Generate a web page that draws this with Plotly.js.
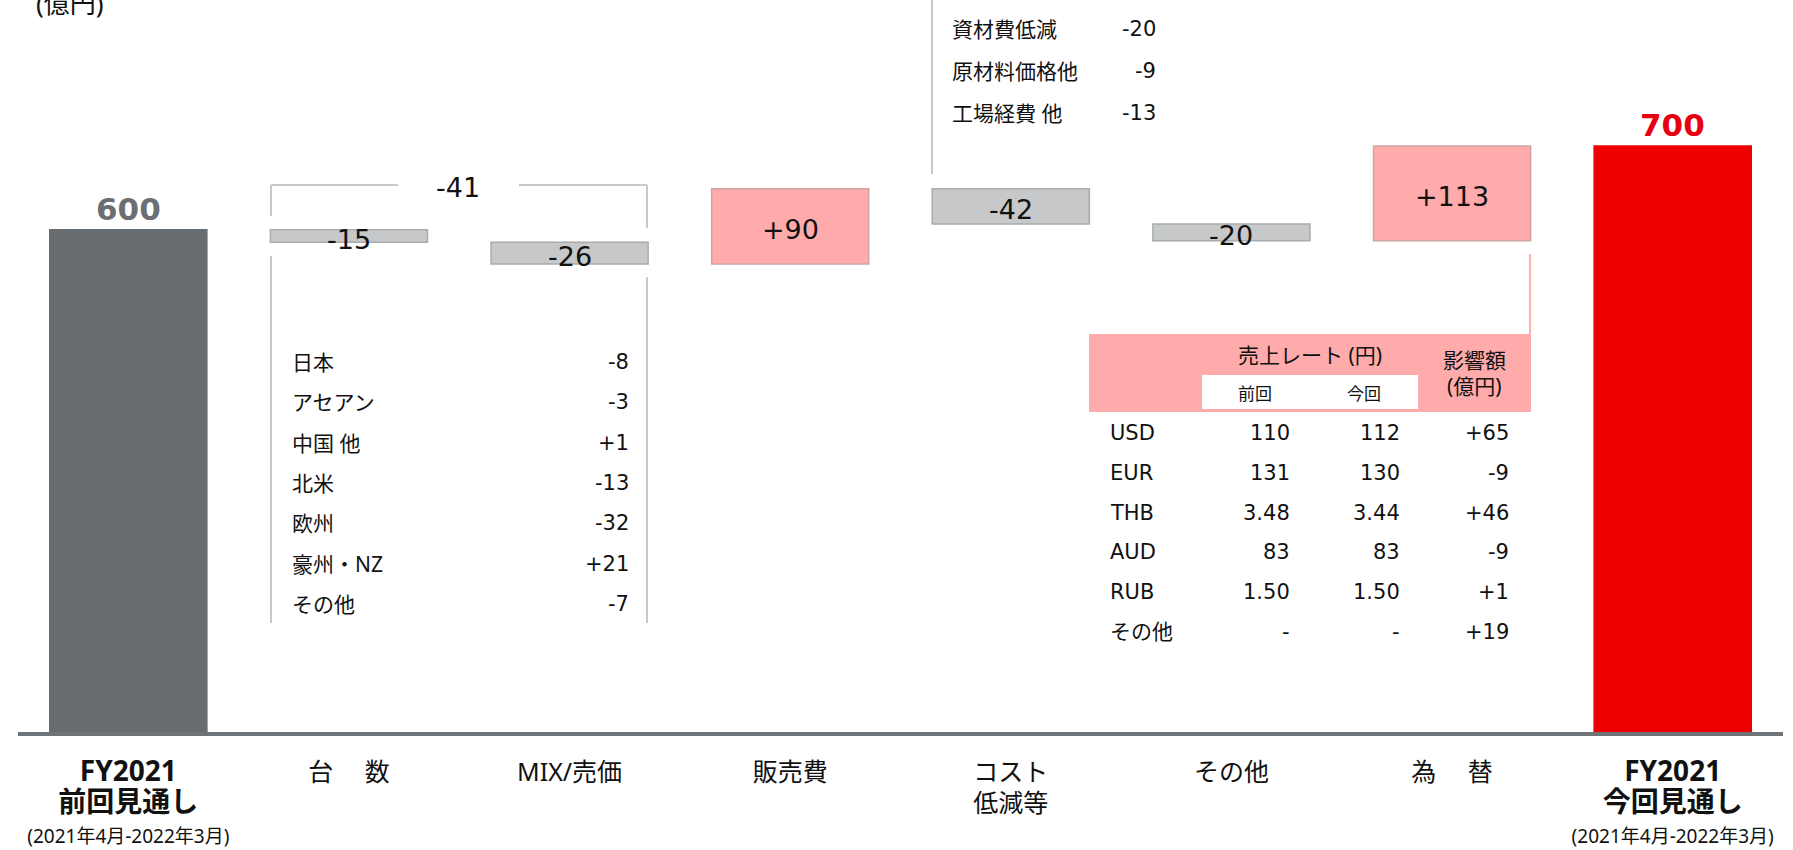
<!DOCTYPE html>
<html>
<head>
<meta charset="utf-8">
<script src="https://cdn.plot.ly/plotly-3.0.1.min.js"></script>
<style>
  html, body { margin: 0; padding: 0; background: #ffffff; }
  #chart { width: 1793px; height: 850px; }
</style>
</head>
<body>
<div id="chart"></div>
<script>
// ---------------- DATA ----------------
const categories = ['FY2021前回見通し', '台数', 'MIX/売価', '販売費', 'コスト低減等', 'その他', '為替', 'FY2021今回見通し'];
const tickLabels = [
  "<span style='font-size:28px'><b>FY2021</b></span><br><span style='font-size:28px'><b>前回見通し</b></span><br><span style='font-size:19px'>(2021年4月-2022年3月)</span>",
  "<span style='font-size:25px'>台\u3000 数</span>",
  "<span style='font-size:25px'>MIX/売価</span>",
  "<span style='font-size:25px'>販売費</span>",
  "<span style='font-size:25px'>コスト</span><br><span style='font-size:25px'>低減等</span>",
  "<span style='font-size:25px'>その他</span>",
  "<span style='font-size:25px'>為\u3000 替</span>",
  "<span style='font-size:28px'><b>FY2021</b></span><br><span style='font-size:28px'><b>今回見通し</b></span><br><span style='font-size:19px'>(2021年4月-2022年3月)</span>"
];
const startValue = 600;
const deltas = [-15, -26, 90, -42, -20, 113];
const endValue = 700;

const volumeMixTotal = -41;
const volumeRegions = ['日本', 'アセアン', '中国 他', '北米', '欧州', '豪州・NZ', 'その他'];
const volumeValues = [-8, -3, 1, -13, -32, 21, -7];

const costItems = ['資材費低減', '原材料価格他', '工場経費 他'];
const costValues = [-20, -9, -13];

const fxCurrencies = ['USD', 'EUR', 'THB', 'AUD', 'RUB', 'その他'];
const fxPrevRates = ['110', '131', '3.48', '83', '1.50', '-'];
const fxCurrRates = ['112', '130', '3.44', '83', '1.50', '-'];
const fxImpact = [65, -9, 46, -9, 1, 19];
const fxHeader = ['売上レート (円)', '前回', '今回', '影響額', '(億円)'];
const unitLabel = '(億円)';

// ---------------- STYLE / GEOMETRY ----------------
const W = 1793, H = 850;
const M = { l: 18, r: 10, t: 0, b: 118 };
const PW = W - M.l - M.r, PH = H - M.t - M.b;
const YMAX = 874.5;
const FONT = "'Noto Sans', 'Noto Sans CJK JP', sans-serif";
const NUMFONT = "'DejaVu Sans', 'Noto Sans CJK JP', sans-serif";
const C_START = '#676c71', C_END = '#ee0000';
const C_UP = '#ffabab', C_UP_LINE = '#d2a4a4';
const C_DOWN = '#c6c8ca', C_DOWN_LINE = '#a9abad';
const C_RULE = '#c8c9cb';
const C_TEXT = '#111111';

function xp(px) { return (px - M.l) / PW; }
function yp(py) { return (M.t + PH - py) / PH; }
function sgn(v) { return v > 0 ? '+' + v : String(v); }

// ---------------- BARS ----------------
const bases = [0], heights = [startValue], colors = [C_START], lines = [C_START];
let running = startValue;
deltas.forEach(d => {
  bases.push(d > 0 ? running : running + d);
  heights.push(Math.abs(d));
  colors.push(d > 0 ? C_UP : C_DOWN);
  lines.push(d > 0 ? C_UP_LINE : C_DOWN_LINE);
  running += d;
});
bases.push(0); heights.push(endValue); colors.push(C_END); lines.push(C_END);

const trace = {
  type: 'bar',
  x: categories,
  y: heights,
  base: bases,
  width: 0.712,
  marker: { color: colors, line: { color: lines, width: 1.5 } },
  hoverinfo: 'skip',
  showlegend: false
};

// ---------------- ANNOTATIONS ----------------
const ann = [];
function pa(text, px, py, xanchor, font) {
  ann.push({ x: xp(px), y: yp(py), xref: 'paper', yref: 'paper', xanchor, yanchor: 'middle',
    text, showarrow: false, font });
}
// totals
ann.push({ x: categories[0], y: startValue, xref: 'x', yref: 'y', yshift: 21, yanchor: 'middle',
  text: '<b>' + startValue + '</b>', showarrow: false, font: { family: NUMFONT, size: 31, color: '#6b6f73' } });
ann.push({ x: categories[7], y: endValue, xref: 'x', yref: 'y', yshift: 21, yanchor: 'middle',
  text: '<b>' + endValue + '</b>', showarrow: false, font: { family: NUMFONT, size: 31, color: '#e60012' } });
// deltas
deltas.forEach((d, i) => {
  const mid = bases[i + 1] + heights[i + 1] / 2;
  ann.push({ x: categories[i + 1], y: mid, xref: 'x', yref: 'y', yshift: -3, yanchor: 'middle',
    text: sgn(d), showarrow: false, font: { family: NUMFONT, size: 27, color: C_TEXT } });
});
// bracket total
pa(String(volumeMixTotal), 458, 188, 'center', { family: NUMFONT, size: 27, color: C_TEXT });
// unit
pa(unitLabel, 34, 3, 'left', { family: FONT, size: 26, color: C_TEXT });

// left table (volume by region)
volumeRegions.forEach((r, i) => {
  const y = 362 + i * 40.3;
  pa(r, 290, y, 'left', { family: FONT, size: 21, color: C_TEXT });
  pa(sgn(volumeValues[i]), 631, y, 'right', { family: NUMFONT, size: 21, color: C_TEXT });
});

// cost list
costItems.forEach((c, i) => {
  const y = 28.6 + i * 42.2;
  pa(c, 950, y, 'left', { family: FONT, size: 21, color: C_TEXT });
  pa(sgn(costValues[i]), 1158, y, 'right', { family: NUMFONT, size: 21, color: C_TEXT });
});

// fx table header
pa(fxHeader[0], 1310, 355, 'center', { family: FONT, size: 21, color: C_TEXT });
pa(fxHeader[1], 1255, 393, 'center', { family: FONT, size: 17, color: C_TEXT });
pa(fxHeader[2], 1364, 393, 'center', { family: FONT, size: 17, color: C_TEXT });
pa(fxHeader[3], 1474, 360, 'center', { family: FONT, size: 21, color: C_TEXT });
pa(fxHeader[4], 1474, 386, 'center', { family: FONT, size: 21, color: C_TEXT });
// fx rows
fxCurrencies.forEach((c, i) => {
  const y = 433 + i * 39.8;
  const f = { family: NUMFONT, size: 21, color: C_TEXT };
  pa(c, 1108, y, 'left', f);
  pa(fxPrevRates[i], 1292, y, 'right', f);
  pa(fxCurrRates[i], 1402, y, 'right', f);
  pa(sgn(fxImpact[i]), 1511, y, 'right', f);
});

// ---------------- SHAPES ----------------
function pline(x0, y0, x1, y1, color, w) {
  return { type: 'line', xref: 'paper', yref: 'paper', x0: xp(x0), y0: yp(y0), x1: xp(x1), y1: yp(y1),
    line: { color, width: w || 2 }, layer: 'below' };
}
function prect(x0, y0, x1, y1, color) {
  return { type: 'rect', xref: 'paper', yref: 'paper', x0: xp(x0), y0: yp(y0), x1: xp(x1), y1: yp(y1),
    fillcolor: color, line: { width: 0 }, layer: 'below' };
}
const shapes = [
  // bracket
  pline(271, 185, 398, 185, C_RULE),
  pline(519, 185, 647, 185, C_RULE),
  pline(271, 185, 271, 216, C_RULE),
  pline(271, 256, 271, 623, C_RULE),
  pline(647, 185, 647, 228, C_RULE),
  pline(647, 277, 647, 623, C_RULE),
  // cost vertical rule
  pline(932, 0, 932, 174, C_RULE),
  // fx table header
  pline(1530, 254, 1530, 334, '#ffb0b0'),
  prect(1089, 334, 1531, 412, '#ffabab'),
  prect(1202, 375, 1418, 409, '#ffffff')
];

const layout = {
  width: W, height: H,
  margin: M,
  paper_bgcolor: '#ffffff', plot_bgcolor: '#ffffff',
  font: { family: FONT, size: 24, color: C_TEXT },
  bargap: 0.288,
  xaxis: {
    type: 'category',
    range: [-0.5, categories.length - 0.5],
    tickvals: categories,
    ticktext: tickLabels,
    showline: true, linecolor: '#6e7377', linewidth: 4,
    ticks: '', showgrid: false, zeroline: false,
    tickfont: { family: FONT, size: 24, color: C_TEXT },
    ticklabelstandoff: 16,
    fixedrange: true
  },
  yaxis: { range: [0, YMAX], visible: false, showgrid: false, zeroline: false, fixedrange: true },
  annotations: ann,
  shapes: shapes,
  showlegend: false
};

Plotly.newPlot('chart', [trace], layout, { displayModeBar: false, staticPlot: true });
</script>
</body>
</html>
